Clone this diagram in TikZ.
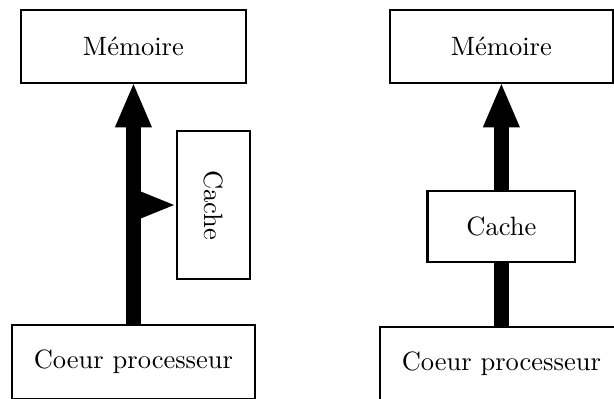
\documentclass[tikz,border=0pt]{standalone}
\usetikzlibrary{positioning,arrows.meta}

\begin{document}
\begin{tikzpicture}[bloc/.style={shape=rectangle, draw, thick, inner sep=0pt},
	fleche/.style={line width=5.6pt, -{Triangle[length=16.3pt, width=14pt, line width=0pt]}},
	pointe/.style={line width=5.6pt, shorten >=0.7pt, -{Triangle[length=13.3pt, width=10.8pt, line width=0pt]}}]
	\useasboundingbox (0,0) rectangle (8.144,-5.279);

	% Cache on the side of the bus
	\node [bloc, minimum width=2.98cm, minimum height=0.97cm] (memA) at (1.77,-0.617) {Mémoire};
	\node [bloc, minimum width=3.22cm, minimum height=0.98cm] (coeurA) at (1.77,-4.80) {Coeur processeur};
	\node [bloc, minimum width=0.97cm, minimum height=1.96cm] (cacheA) at (2.832,-2.719) {};
	\node [rotate=-90] (nomA) at (cacheA.center) {Cache};
	\coordinate (brasA) at (memA.south |- cacheA.west);

	\draw [fleche] (coeurA.north) -- (memA.south);
	\draw [pointe] (brasA) -- (cacheA.west);

	% Cache between core and memory
	\node [bloc, minimum width=2.96cm, minimum height=0.97cm] (memB) at (6.65,-0.617) {Mémoire};
	\node [bloc, minimum width=1.96cm, minimum height=0.94cm] (cacheB) at (6.65,-3.004) {Cache};
	\node [bloc, minimum width=3.22cm, minimum height=0.98cm] (coeurB) at (6.65,-4.828) {Coeur processeur};

	\draw [line width=5.6pt] (coeurB.north) -- (cacheB.south);
	\draw [fleche] (cacheB.north) -- (memB.south);
\end{tikzpicture}
\end{document}
